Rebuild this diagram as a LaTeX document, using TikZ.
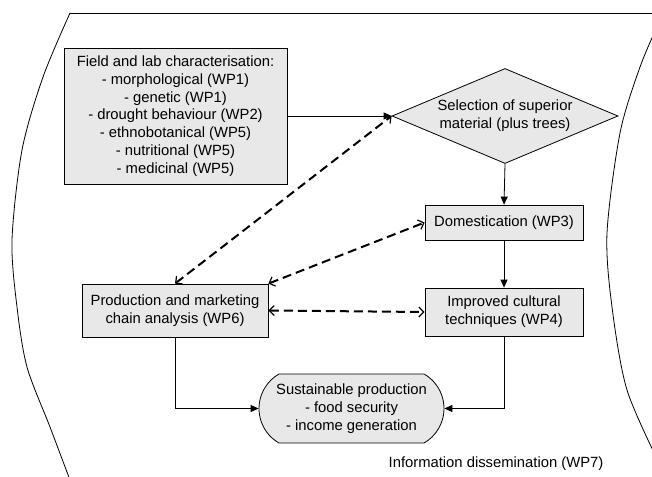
\documentclass[tikz,border=0pt]{standalone}
\usepackage{fontspec}
\setmainfont{Liberation Sans}
\usetikzlibrary{shapes.geometric}
\usetikzlibrary{shapes.misc}
\usetikzlibrary{arrows.meta}

\tikzset{
  wpbox/.style={draw, fill=gray!18, line width=0.8pt, align=center, inner sep=0pt},
  flow/.style={line width=0.8pt, -{Triangle[length=8pt,width=7pt]}},
  link/.style={line width=2pt, dash pattern=on 9pt off 5pt,
    {Straight Barb[length=5pt,width=10pt,line width=1.2pt]}-{Straight Barb[length=5pt,width=10pt,line width=1.2pt]}},
}

\begin{document}
\begin{tikzpicture}[x=1pt,y=-1pt,font=\fontsize{14.8}{17.8}\selectfont]
\useasboundingbox (0,0) rectangle (652,476);
% the outer border (WP7)
\begin{scope}[line width=0.8pt]
\clip (0,0) rectangle (652,476);
\draw (70,13) -- (660,13);
\draw plot[smooth] coordinates {(70,13) (43,77) (22,150) (12,240) (17,307) (27,367) (50,427) (70,480)};
\draw plot[smooth] coordinates {(660,20) (640,67) (620,133) (607,233) (612,307) (627,390) (660,465)};
\end{scope}
% the boxes
\node[wpbox, minimum width=223pt, minimum height=136pt] (field) at (175.5,116) {Field and lab characterisation:\\- morphological (WP1)\\- genetic (WP1)\\- drought behaviour (WP2)\\- ethnobotanical (WP5)\\- nutritional (WP5)\\- medicinal (WP5)};
\node[wpbox, diamond, aspect=2.4, minimum width=226pt, minimum height=95pt] (select) at (505,116) {Selection of superior\\material (plus trees)};
\node[wpbox, minimum width=158pt, minimum height=35pt] (domest) at (504,222.5) {Domestication (WP3)};
\node[wpbox, minimum width=158pt, minimum height=48pt] (improv) at (504,312) {Improved cultural\\techniques (WP4)};
\node[wpbox, minimum width=186pt, minimum height=53pt] (market) at (175,310.5) {Production and marketing\\chain analysis (WP6)};
\node[wpbox, rounded rectangle, rounded rectangle arc length=120, minimum width=185pt, minimum height=69pt] (sustain) at (351.5,408.5) {Sustainable production\\- food security\\- income generation};
\node (dissem) at (496,464) {Information dissemination (WP7)};
% solid arrows
\draw[flow] (field.east |- select.west) -- (select.west);
\draw[flow] (select.south) -- (domest.north);
\draw[flow] (domest.south) -- (improv.north);
\draw[flow] (market.south) |- (sustain.west);
\draw[flow] (improv.south) |- (sustain.east);
% dashed links
\draw[link] (market.north) -- (select.west);
\draw[link] (market.north east) -- (domest.west);
\draw[link] (market.east) -- (improv.west);
\end{tikzpicture}
\end{document}
